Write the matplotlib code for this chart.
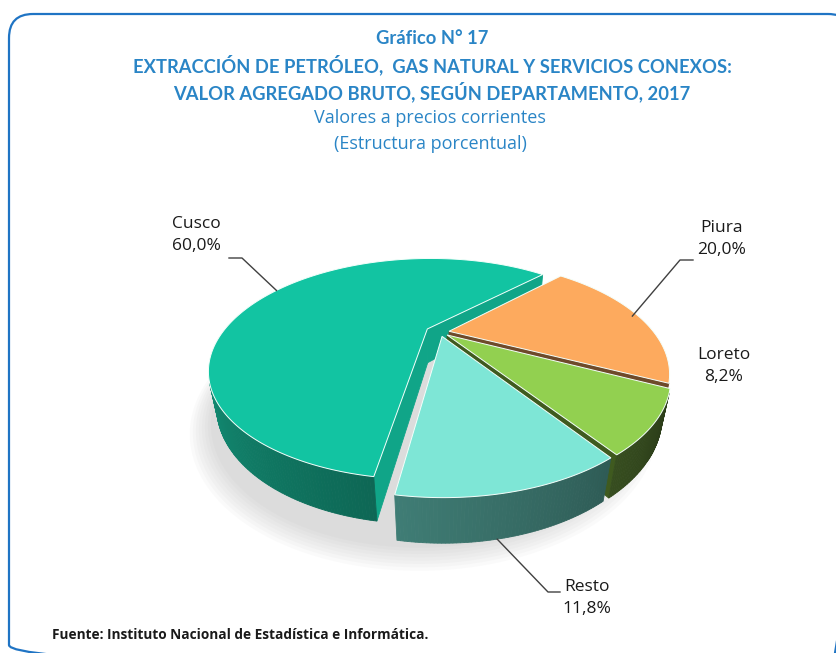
import numpy as np
import matplotlib
matplotlib.use("Agg")
import matplotlib.pyplot as plt
from matplotlib.patches import Polygon, FancyBboxPatch

# ---------------- data ----------------
categories = ['Piura', 'Loreto', 'Resto', 'Cusco']
values = [20.0, 8.2, 11.8, 60.0]
value_labels = ['20,0%', '8,2%', '11,8%', '60,0%']

top_colors = ['#FDAA5E', '#92D050', '#7EE6D6', '#12C4A2']
side_colors = ['#E08A40', '#5E8536', '#509E94', '#11826B']
cut_colors = ['#6E4A2A', '#3F5A1F', '#2F5E58', '#10A588']
explode = [0.045, 0.045, 0.045, 0.07]

title_lines = ['Gráfico N° 17',
               'EXTRACCIÓN DE PETRÓLEO,  GAS NATURAL Y SERVICIOS CONEXOS:',
               'VALOR AGREGADO BRUTO, SEGÚN DEPARTAMENTO, 2017']
subtitle_lines = ['Valores a precios corrientes', '(Estructura porcentual)']
source = 'Fuente: Instituto Nacional de Estadística e Informática.'

# ---------------- geometry / style ----------------
W, Hpx = 836, 653
CX, CY = 440, 332
XS = 0.93
FOC = 539.0
DC = 2.45
PHI = np.radians(26.5)
THICK = 0.178
START = 45.5
FONT = ['Lato', 'DejaVu Sans']
FONT2 = ['Open Sans', 'DejaVu Sans']
BLUE = '#2A85C6'

fig = plt.figure(figsize=(W / 100, Hpx / 100), dpi=100)
ax = fig.add_axes([0, 0, 1, 1])
ax.set_xlim(0, W)
ax.set_ylim(Hpx, 0)
ax.axis('off')

# rounded frame (right and bottom sides fall outside the picture)
frame = FancyBboxPatch((9, 14), 843, 655, boxstyle='round,pad=0,rounding_size=24',
                       fc='none', ec='#1F74C4', lw=1.6, zorder=1, clip_on=False)
ax.add_patch(frame)

sphi, cphi = np.sin(PHI), np.cos(PHI)


def proj(X, Y, Z):
    X = np.asarray(X, float); Y = np.asarray(Y, float); Z = np.asarray(Z, float)
    dep = Y * cphi - Z * sphi
    k = FOC / (DC + dep)
    return CX + XS * X * k, CY - (Y * sphi + Z * cphi) * k


def depth(X, Y, Z):
    return np.mean(np.asarray(Y) * cphi - np.asarray(Z) * sphi)


def area_up(xs, ys):
    yu = -np.asarray(ys)
    xs = np.asarray(xs)
    return 0.5 * np.sum(xs * np.roll(yu, -1) - np.roll(xs, -1) * yu)


def shade(hexcol, f):
    c = np.array(matplotlib.colors.to_rgb(hexcol)) * f
    return tuple(np.clip(c, 0, 1))


# soft shadow under pie
tt = np.linspace(0, 2 * np.pi, 200)
for j in range(8):
    s = 1.0 + 0.012 * j
    sx, sy = proj(s * np.cos(tt) - 0.05, s * np.sin(tt) - 0.02, -THICK - 0.02)
    ax.add_patch(Polygon(np.c_[sx - 5, sy + 6], closed=True, fc='#808080',
                         ec='none', alpha=0.035, zorder=2))

walls = []
tops = []
anchors = []
a1 = START
for i, v in enumerate(values):
    a2 = a1 - 360.0 * v / 100.0
    mid = np.radians((a1 + a2) / 2)
    ox, oy = explode[i] * np.cos(mid), explode[i] * np.sin(mid)
    th = np.radians(np.linspace(a1, a2, max(int(abs(a2 - a1) * 1.5), 4)))
    rx, ry = ox + np.cos(th), oy + np.sin(th)

    X = np.r_[ox, rx]; Y = np.r_[oy, ry]
    tx, ty = proj(X, Y, 0)
    tops.append((tx, ty, top_colors[i]))

    for j in range(len(th) - 1):
        Xq = [rx[j], rx[j + 1], rx[j + 1], rx[j]]
        Yq = [ry[j], ry[j + 1], ry[j + 1], ry[j]]
        Zq = [0, 0, -THICK, -THICK]
        qx, qy = proj(Xq, Yq, Zq)
        if area_up(qx, qy) > 0:
            psi = np.degrees(0.5 * (th[j] + th[j + 1])) % 360
            f = 1.2 - 0.9 * (psi - 180) / 180 if psi >= 180 else 1.2
            f = max(f, 0.45)
            col = shade(side_colors[i], f)
            walls.append((depth(Xq, Yq, Zq), qx, qy, col))

    for ang, rev in ((a1, False), (a2, True)):
        ca, sa = np.cos(np.radians(ang)), np.sin(np.radians(ang))
        Xq = [ox, ox + ca, ox + ca, ox]
        Yq = [oy, oy + sa, oy + sa, oy]
        Zq = [0, 0, -THICK, -THICK]
        if rev:
            Xq, Yq, Zq = Xq[::-1], Yq[::-1], Zq[::-1]
        qx, qy = proj(Xq, Yq, Zq)
        if area_up(qx, qy) > 0:
            walls.append((depth(Xq, Yq, Zq), qx, qy, cut_colors[i]))

    anchors.append((ox, oy, mid))
    a1 = a2

walls.sort(key=lambda w: -w[0])
for d, qx, qy, col in walls:
    ax.add_patch(Polygon(np.c_[qx, qy], closed=True, fc=col, ec=col, lw=0.6, zorder=3))
for tx, ty, col in tops:
    ax.add_patch(Polygon(np.c_[tx, ty], closed=True, fc=col, ec='#F4FFFB', lw=0.7, zorder=4))

# ---------------- labels & leader lines ----------------
lab_pos = {'Piura': (722, 239), 'Loreto': (724, 366), 'Resto': (587, 598), 'Cusco': (196, 235)}
for i, name in enumerate(categories):
    x, y = lab_pos[name]
    ax.text(x, y, name + '\n' + value_labels[i], ha='center', va='center', fontsize=12.5,
            family=FONT2, color='#1A1A1A', linespacing=1.55, zorder=6)

lc = '#404040'
ox, oy, mid = anchors[3]
px, py = proj(ox + np.cos(np.radians(152)), oy + np.sin(np.radians(152)), 0)
ax.plot([px, 242, 229], [py, 258, 258], color=lc, lw=1.0, zorder=5)
ox, oy, mid = anchors[0]
px, py = proj(ox + np.cos(mid), oy + np.sin(mid), 0)
ax.plot([px - 6, 680, 693], [py, 260, 260], color=lc, lw=1.0, zorder=5)
ox, oy, mid = anchors[2]
px, py = proj(ox + np.cos(np.radians(-80)), oy + np.sin(np.radians(-80)), -THICK)
ax.plot([px, 548, 560], [py, 592, 592], color=lc, lw=1.0, zorder=5)

# ---------------- titles ----------------
for txt, y in zip(title_lines, [39, 65, 92]):
    ax.text(432, y, txt, ha='center', va='center', fontsize=13.2, fontweight='bold',
            family=FONT, color=BLUE)
ax.text(430, 118, subtitle_lines[0], ha='center', va='center', fontsize=13,
        family=FONT2, color=BLUE)
ax.text(430, 144, subtitle_lines[1], ha='center', va='center', fontsize=13,
        family=FONT2, color=BLUE)
ax.text(52, 635, source, ha='left', va='center', fontsize=9.8, fontweight='bold',
        family=FONT2, color='#1A1A1A')

fig.savefig('out.png', dpi=100)
